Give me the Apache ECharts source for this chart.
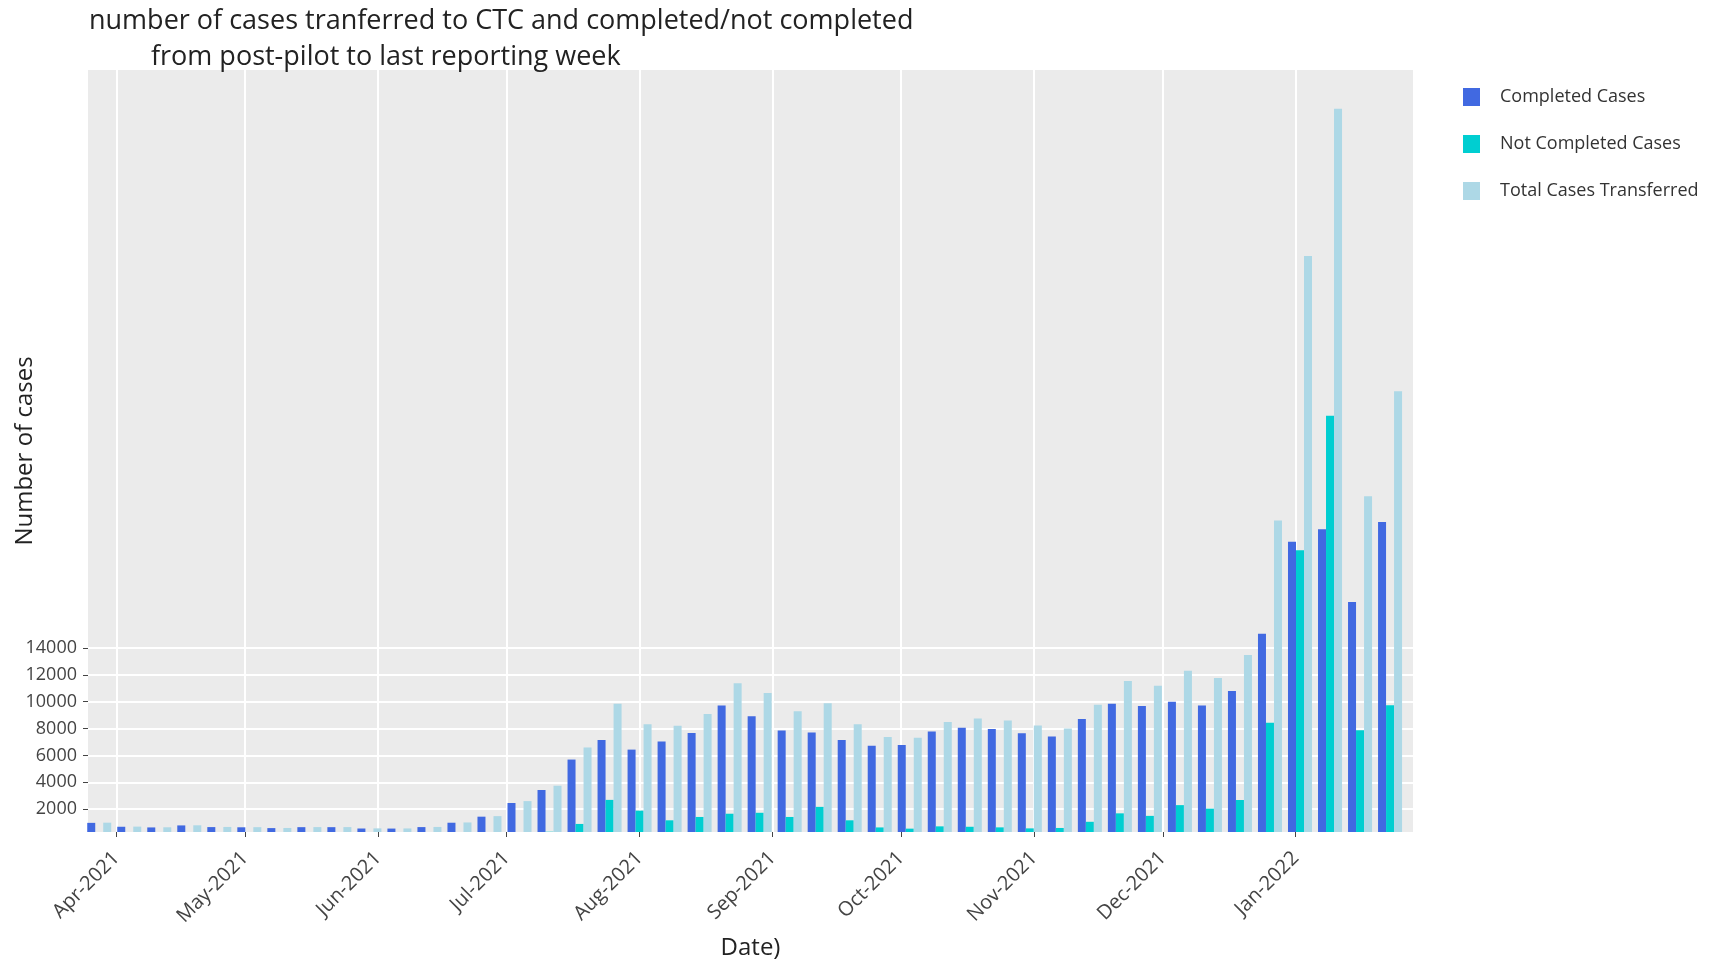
<!DOCTYPE html>
<html><head><meta charset="utf-8">
<script src="https://cdn.jsdelivr.net/npm/echarts@6/dist/echarts.min.js"></script>
<style>html,body{margin:0;padding:0;background:#fff}#c{width:1712px;height:962px}</style>
</head><body><div id="c"></div>
<script>
const titleLines = ['number of cases tranferred to CTC and completed/not completed', 'from post-pilot to last reporting week'];
const seriesNames = ['Completed Cases', 'Not Completed Cases', 'Total Cases Transferred'];
const weekDates = ['2021-03-28','2021-04-04','2021-04-11','2021-04-18','2021-04-25','2021-05-02','2021-05-09','2021-05-16','2021-05-23','2021-05-30',
  '2021-06-06','2021-06-13','2021-06-20','2021-06-27','2021-07-04','2021-07-11','2021-07-18','2021-07-25','2021-08-01','2021-08-08',
  '2021-08-15','2021-08-22','2021-08-29','2021-09-05','2021-09-12','2021-09-19','2021-09-26','2021-10-03','2021-10-10','2021-10-17',
  '2021-10-24','2021-10-31','2021-11-07','2021-11-14','2021-11-21','2021-11-28','2021-12-05','2021-12-12','2021-12-19','2021-12-26',
  '2022-01-02','2022-01-09','2022-01-16','2022-01-23'];
const completed = [980,690,640,790,665,650,590,660,660,560,555,665,990,1440,2460,3425,5690,7150,6430,7040,
  7660,9710,8920,7860,7710,7140,6720,6770,7770,8060,7960,7650,7400,8700,9847,9680,9990,9710,10790,15060,
  21900,22830,17420,23370];
const notCompleted = [15,10,10,10,10,10,10,5,5,10,10,10,20,40,140,320,900,2690,1890,1170,
  1420,1660,1730,1420,2170,1170,640,550,720,690,645,570,600,1060,1688,1500,2300,2040,2680,8420,
  21260,31280,7870,9730];
const totalTransferred = [995,700,650,800,675,660,600,665,665,570,565,675,1010,1480,2600,3745,6590,9840,8320,8210,
  9080,11370,10650,9280,9880,8310,7360,7320,8490,8750,8605,8220,8000,9760,11535,11180,12290,11750,13470,23480,
  43160,54110,25290,33100];
const xTickDates = ['2021-04-01','2021-05-01','2021-06-01','2021-07-01','2021-08-01','2021-09-01','2021-10-01','2021-11-01','2021-12-01','2022-01-01'];
const xTickLabels = ['Apr-2021','May-2021','Jun-2021','Jul-2021','Aug-2021','Sep-2021','Oct-2021','Nov-2021','Dec-2021','Jan-2022'];
const xRange = ['2021-03-25T09:07', '2022-01-28T08:24'];
const yTicks = [2000,4000,6000,8000,10000,12000,14000];
const colors = ['#4169E1', '#00CED1', '#ADD8E6'];

const FONT = '"Open Sans", "DejaVu Sans", sans-serif';
function ts(s) {
  const m = s.match(/^(\d{4})-(\d{2})-(\d{2})(?:T(\d{2}):(\d{2}))?$/);
  return new Date(+m[1], +m[2] - 1, +m[3], m[4] ? +m[4] : 0, m[5] ? +m[5] : 0).getTime();
}
const xTickTs = xTickDates.map(ts);
function xLabel(v) {
  const i = xTickTs.findIndex(t => Math.abs(t - v) < 3600000);
  return i >= 0 ? xTickLabels[i] : '';
}
const chart = echarts.init(document.getElementById('c'), null, {renderer: 'canvas'});
const valueSets = [completed, notCompleted, totalTransferred];
chart.setOption({
  animation: false,
  backgroundColor: '#fff',
  title: [
    {text: titleLines[0], left: 89, top: 3, padding: 0, textStyle: {fontFamily: FONT, fontSize: 27, fontWeight: 'normal', color: '#222', lineHeight: 36}},
    {text: titleLines[1], left: 151, top: 39, padding: 0, textStyle: {fontFamily: FONT, fontSize: 27, fontWeight: 'normal', color: '#222', lineHeight: 36}}
  ],
  legend: {
    orient: 'vertical', left: 1463, top: 88, padding: 0,
    itemWidth: 17, itemHeight: 18, itemGap: 29, icon: 'rect',
    textStyle: {fontFamily: FONT, fontSize: 18, color: '#333', padding: [0, 0, 0, 15], lineHeight: 18},
    data: seriesNames
  },
  grid: {left: 88, right: 299, top: 70, bottom: 130, show: true, backgroundColor: '#EBEBEB', borderWidth: 0,
         containLabel: false, outerBoundsMode: 'none'},
  xAxis: {
    type: 'value',
    min: ts(xRange[0]), max: ts(xRange[1]),
    name: 'Date)', nameLocation: 'middle', nameGap: 101, nameMoveOverlap: false,
    nameTextStyle: {fontFamily: FONT, fontSize: 24, color: '#222', lineHeight: 30},
    axisLine: {show: false},
    axisTick: {show: true, length: 5, lineStyle: {color: '#444'}, customValues: xTickTs},
    axisLabel: {customValues: xTickTs, rotate: 45, margin: 23, fontFamily: FONT, fontSize: 20, color: '#444', formatter: xLabel},
    splitLine: {show: true, lineStyle: {color: '#fff', width: 2}}
  },
  yAxis: {
    type: 'value', min: 300, max: 57000,
    name: 'Number of cases', nameLocation: 'middle', nameGap: 51, nameRotate: 90, nameMoveOverlap: false,
    nameTextStyle: {fontFamily: FONT, fontSize: 24, color: '#222'},
    axisLine: {show: false},
    axisTick: {show: true, length: 5, lineStyle: {color: '#444'}, customValues: yTicks},
    axisLabel: {customValues: yTicks, margin: 11, fontFamily: FONT, fontSize: 18, color: '#444', formatter: v => String(v)},
    splitLine: {show: true, lineStyle: {color: '#fff', width: 2}}
  },
  series: seriesNames.map((name, k) => ({
    name: name, type: 'bar',
    barGap: '0%', barCategoryGap: '20%',
    itemStyle: {color: colors[k]},
    data: weekDates.map((d, i) => [ts(d), valueSets[k][i]])
  }))
});
</script></body></html>
